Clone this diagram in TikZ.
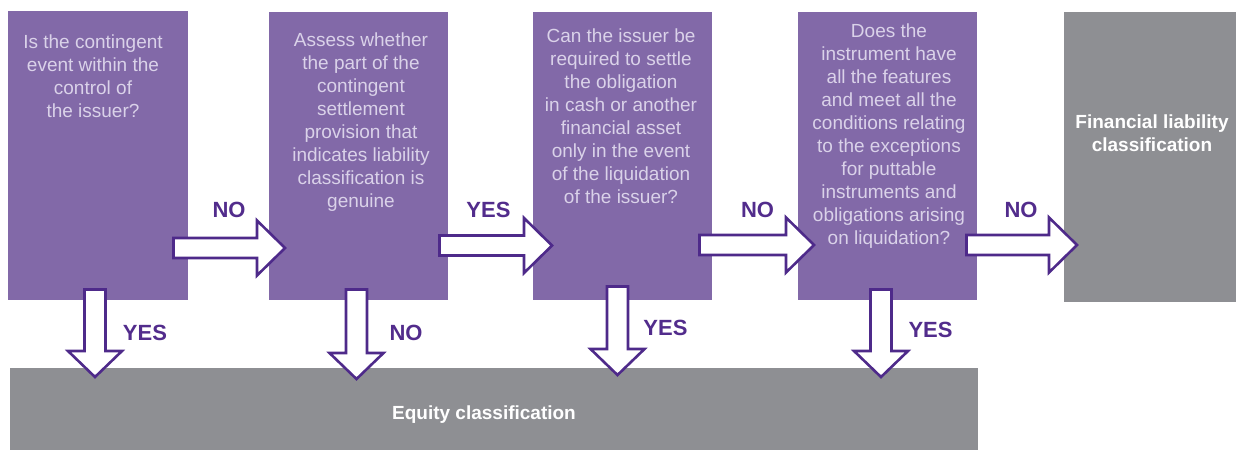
\documentclass[tikz,border=0pt]{standalone}
\usepackage{fontspec}
\setmainfont{Liberation Sans}
\usetikzlibrary{calc}
\definecolor{qpurple}{RGB}{130,105,168}
\definecolor{qtext}{RGB}{218,210,233}
\definecolor{rgray}{RGB}{142,143,147}
\definecolor{aline}{RGB}{78,42,138}
\definecolor{lblc}{RGB}{82,44,140}
\tikzset{
  qbox/.style={fill=qpurple, draw=none, inner sep=0, anchor=north west},
  rbox/.style={fill=rgray, draw=none, inner sep=0, anchor=north west},
  qtxt/.style={text=qtext, align=center, inner sep=0, anchor=north, font=\fontsize{19}{23}\selectfont},
  rtxt/.style={text=white, align=center, inner sep=0, anchor=base, font=\bfseries\fontsize{19}{23}\selectfont},
  lbl/.style={text=lblc, inner sep=0, anchor=base, font=\bfseries\fontsize{22}{26}\selectfont},
  blockarrow/.style={draw=aline, fill=white, line width=2.6pt, line join=miter},
}
\newcommand\rblock[2]{\path[blockarrow] let \p1=(#1), \p2=(#2) in
  (\x1,\y1+10pt) -- (\x2-28pt,\y1+10pt) -- (\x2-28pt,\y1+27.5pt) -- (\x2,\y1)
  -- (\x2-28pt,\y1-27.5pt) -- (\x2-28pt,\y1-10pt) -- (\x1,\y1-10pt) -- cycle;}
\newcommand\dblock[2]{\path[blockarrow] let \p1=(#1), \p2=(#2) in
  (\x1-10.5pt,\y1) -- (\x1-10.5pt,\y2+26pt) -- (\x1-27pt,\y2+26pt) -- (\x1,\y2)
  -- (\x1+27pt,\y2+26pt) -- (\x1+10.5pt,\y2+26pt) -- (\x1+10.5pt,\y1) -- cycle;}
\begin{document}
\begin{tikzpicture}[x=1pt,y=-1pt]
\useasboundingbox (0,0) rectangle (1236,450);
% boxes
\node[qbox, minimum width=180pt, minimum height=289pt] (b1) at (8,11) {};
\node[qbox, minimum width=179pt, minimum height=288pt] (b2) at (269,12) {};
\node[qbox, minimum width=179pt, minimum height=288pt] (b3) at (533,12) {};
\node[qbox, minimum width=179pt, minimum height=288pt] (b4) at (798,12) {};
\node[rbox, minimum width=172pt, minimum height=290pt] (b5) at (1064,12) {};
\node[rbox, minimum width=968pt, minimum height=82pt] (eq) at (10,368) {};
% texts
\node[qtxt] (t1) at (93,35) {Is the contingent\\event within the\\control of\\the issuer?};
\node[qtxt] (t2) at (361,33) {Assess whether\\the part of the\\contingent\\settlement\\provision that\\indicates liability\\classification is\\genuine};
\node[qtxt] (t3) at (621,29) {Can the issuer be\\required to settle\\the obligation\\in cash or another\\financial asset\\only in the event\\of the liquidation\\of the issuer?};
\node[qtxt] (t4) at (889,24) {Does the\\instrument have\\all the features\\and meet all the\\conditions relating\\to the exceptions\\for puttable\\instruments and\\obligations arising\\on liquidation?};
\node[rtxt] (t5) at (1152,151) {Financial liability\\classification};
\node[rtxt] (t6) at (484,419) {Equity classification};
% arrow end points
\coordinate (a1s) at (173.5,248); \coordinate (a1e) at (285,248);
\coordinate (a2s) at (439.5,245.5); \coordinate (a2e) at (552,245.5);
\coordinate (a3s) at (699.5,245); \coordinate (a3e) at (814,245);
\coordinate (a4s) at (966.5,245); \coordinate (a4e) at (1077,245);
\coordinate (d1s) at (95,289.5); \coordinate (d1e) at (95,377);
\coordinate (d2s) at (356.5,289.5); \coordinate (d2e) at (356.5,379);
\coordinate (d3s) at (617.5,286.5); \coordinate (d3e) at (617.5,375);
\coordinate (d4s) at (881,289.5); \coordinate (d4e) at (881,377);
\rblock{a1s}{a1e}
\rblock{a2s}{a2e}
\rblock{a3s}{a3e}
\rblock{a4s}{a4e}
\dblock{d1s}{d1e}
\dblock{d2s}{d2e}
\dblock{d3s}{d3e}
\dblock{d4s}{d4e}
% labels
\node[lbl] (l1) at (229,217) {NO};
\node[lbl] (l2) at (488.5,217) {YES};
\node[lbl] (l3) at (757.5,217) {NO};
\node[lbl] (l4) at (1021,217) {NO};
\node[lbl] (l5) at (145,340) {YES};
\node[lbl] (l6) at (406,340) {NO};
\node[lbl] (l7) at (665.5,335) {YES};
\node[lbl] (l8) at (930.5,337) {YES};
\end{tikzpicture}
\end{document}
